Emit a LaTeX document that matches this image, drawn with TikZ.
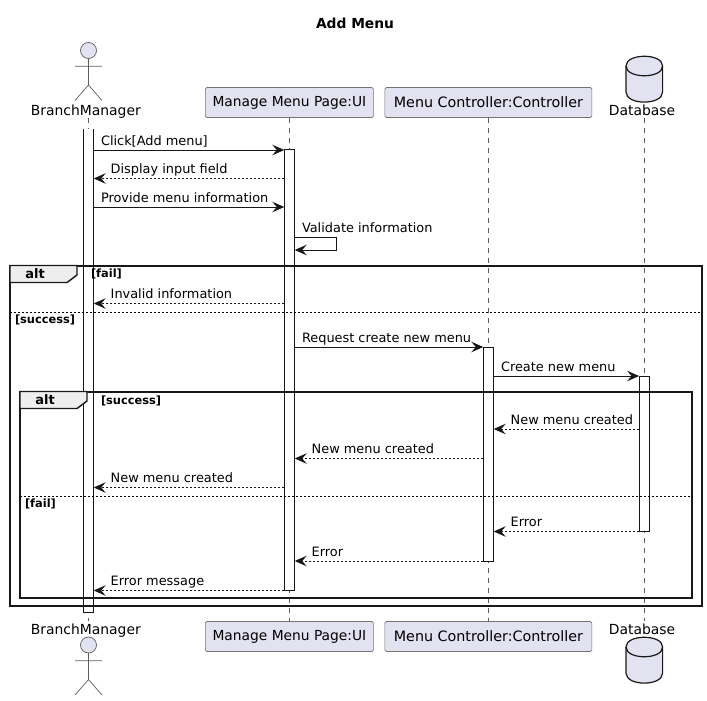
\documentclass[tikz,border=0pt]{standalone}
\usepackage{fontspec}
\setmainfont{DejaVu Sans}
\usetikzlibrary{arrows.meta,positioning}
\definecolor{partfill}{HTML}{E2E2F0}
\definecolor{partline}{HTML}{181818}
\definecolor{tabfill}{HTML}{EEEEEE}
\tikzset{
  every node/.style={inner sep=0pt,outer sep=0pt},
  partbox/.style={draw=partline!60,fill=partfill,rounded corners=1.5pt,line width=.6pt,minimum height=30pt,font=\fontsize{13.8}{15}\selectfont},
  partname/.style={anchor=base,font=\fontsize{13.9}{15}\selectfont},
  lifeline/.style={draw=partline!70,line width=.6pt,dash pattern=on 5pt off 5pt},
  barbox/.style={fill=white,draw=partline,line width=1pt,minimum width=10.4pt},
  msg/.style={draw=partline,line width=1pt,-{Stealth[length=12pt,width=10.5pt,inset=4.5pt]}},
  reply/.style={msg,dash pattern=on 2pt off 2pt},
  sendtext/.style={pos=0,anchor=base west,xshift=7.3pt,yshift=4.6pt,font=\fontsize{12.9}{15}\selectfont},
  replytext/.style={pos=1,anchor=base west,xshift=17pt,yshift=4.6pt,font=\fontsize{12.9}{15}\selectfont},
  frm/.style={draw=partline,line width=2pt,anchor=north west},
  tabshape/.style={draw=partline,fill=tabfill,line width=1.4pt},
  sepline/.style={draw=black,line width=.9pt,dash pattern=on 2pt off 2pt},
  frmtext/.style={font=\bfseries\fontsize{13}{15}\selectfont},
  guardtext/.style={anchor=base west,font=\bfseries\fontsize{11.4}{13}\selectfont},
  actorfig/.pic={
    \draw[partline!70,line width=.7pt,fill=partfill] (0,0) circle (8pt);
    \draw[partline!70,line width=.7pt] (0,8) -- (0,34.5) (-13.5,15.7) -- (13.5,15.7)
      (-13.5,50) -- (0,34.5) -- (13.5,50);
  },
  dbfig/.pic={
    \draw[partline,line width=1.2pt,fill=partfill] (-18.3,10) .. controls (-18.3,-3) and (18.3,-3) .. (18.3,10)
      -- (18.3,36) .. controls (18.3,49.5) and (-18.3,49.5) .. (-18.3,36) -- cycle;
    \draw[partline,line width=1.2pt] (-18.3,10) .. controls (-18.3,23) and (18.3,23) .. (18.3,10);
  }
}
\begin{document}
\begin{tikzpicture}[x=1pt,y=-1pt]
  \useasboundingbox (0,0) rectangle (707,701);
  \node[font=\bfseries\fontsize{13.8}{15}\selectfont] (title) at (355,23) {Add Menu};

  % row heights
  \foreach \rowname/\rowy in {r1/150,r2/178.5,r3/207,r4/237,r5/250,r6/303.5,r7/347,r8/376,r9/429,r10/458.5,r11/487.5,r12/531.5,r13/561,r14/590.5,lifetop/118,lifebot/621,sepa/312.5,sepb/496.5}
    \coordinate (\rowname) at (0,\rowy);
  \coordinate (bmaxis) at (88.5,0);
  \coordinate (dbaxis) at (644.3,0);

  \pic at (bmaxis |- 0,50.5) {actorfig};
  \node[partname] (bmtop) at (85.8,115) {BranchManager};
  \node[partbox,minimum width=168pt] (uitop) at (289.4,102.5) {Manage Menu Page:UI};
  \node[partbox,minimum width=207pt,font=\fontsize{14.3}{15}\selectfont] (ctltop) [right=199pt of uitop.center,anchor=center] {Menu Controller:Controller};
  \pic at (dbaxis |- 0,56) {dbfig};
  \node[partname] (dblab) at (642,115) {Database};

  \pic at (bmaxis |- 0,645) {actorfig};
  \node[partname] (bmbot) at (85.8,634) {BranchManager};
  \node[partbox,minimum width=168pt] (uibot) at (289.4,636.5) {Manage Menu Page:UI};
  \node[partbox,minimum width=207pt,font=\fontsize{14.3}{15}\selectfont] (ctlbot) [right=199pt of uibot.center,anchor=center] {Menu Controller:Controller};
  \pic at (dbaxis |- 0,637) {dbfig};
  \node[partname] (dblabb) at (642,634) {Database};

  \draw[lifeline] (bmaxis |- lifetop) -- (bmaxis |- lifebot);
  \draw[lifeline] (uitop.south) -- (uibot.north);
  \draw[lifeline] (ctltop.south) -- (ctlbot.north);
  \draw[lifeline] (dbaxis |- lifetop) -- (dbaxis |- lifebot);

  \node[barbox,draw=none,minimum height=483pt] (barBM) at (88.5,370.5) {};
  \draw[partline,line width=1pt] (barBM.north west) -- (barBM.south west) -- (barBM.south east) -- (barBM.north east);
  \node[barbox,minimum height=441.5pt] (barUI) at (289.5,369.8) {};
  \node[barbox,minimum height=214.3pt] (barCT) at (488.5,454.2) {};
  \node[barbox,minimum height=155.7pt] (barDB) at (644.3,453.9) {};

  \draw[msg] (barBM.east |- r1) -- node[sendtext] (mclick) {Click[Add menu]} (barUI.west |- r1);
  \draw[reply] (barUI.west |- r2) -- node[replytext] (mshow) {Display input field} (barBM.east |- r2);
  \draw[msg] (barBM.east |- r3) -- node[sendtext] (mgive) {Provide menu information} (barUI.west |- r3);
  \draw[msg] (barUI.east |- r4) -- node[sendtext] (mcheck) {Validate information} ++(41.5,0) -- ++(0,13) -- (barUI.east |- r5);
  \draw[reply] (barUI.west |- r6) -- node[replytext] (mbad) {Invalid information} (barBM.east |- r6);
  \draw[msg] (barUI.east |- r7) -- node[sendtext] (mask) {Request create new menu} (barCT.west |- r7);
  \draw[msg] (barCT.east |- r8) -- node[sendtext] (mmake) {Create new menu} (barDB.west |- r8);
  \draw[reply] (barDB.west |- r9) -- node[replytext] (mdone) {New menu created} (barCT.east |- r9);
  \draw[reply] (barCT.west |- r10) -- node[replytext] (mdonb) {New menu created} (barUI.east |- r10);
  \draw[reply] (barUI.west |- r11) -- node[replytext] (mdonc) {New menu created} (barBM.east |- r11);
  \draw[reply] (barDB.west |- r12) -- node[replytext] (merra) {Error} (barCT.east |- r12);
  \draw[reply] (barCT.west |- r13) -- node[replytext] (merrb) {Error} (barUI.east |- r13);
  \draw[reply] (barUI.west |- r14) -- node[replytext] (merrc) {Error message} (barBM.east |- r14);

  % outer and inner alt
  \node[frm,minimum width=692pt,minimum height=340pt] (outerfrm) at (10,265.5) {};
  \draw[tabshape] (outerfrm.north west) -- ++(67,0) -- ++(0,9.5) -- ++(-10,7.5) -- ++(-57,0) -- cycle;
  \node[frmtext] (outeralt) at (35,273.5) {alt};
  \node[guardtext] (gfail) at (91,277) {[fail]};
  \draw[sepline] (outerfrm.west |- sepa) -- (outerfrm.east |- sepa);
  \node[guardtext] (gsucc) at (15,323) {[success]};

  \node[frm,minimum width=672pt,minimum height=206.5pt] (innerfrm) at (20,391.5) {};
  \draw[tabshape] (innerfrm.north west) -- ++(67,0) -- ++(0,9.5) -- ++(-10,7.5) -- ++(-57,0) -- cycle;
  \node[frmtext] (inneralt) at (45,400) {alt};
  \node[guardtext] (gsuccb) at (101,404.5) {[success]};
  \draw[sepline] (innerfrm.west |- sepb) -- (innerfrm.east |- sepb);
  \node[guardtext] (gfailb) at (25,507.5) {[fail]};
\end{tikzpicture}
\end{document}
